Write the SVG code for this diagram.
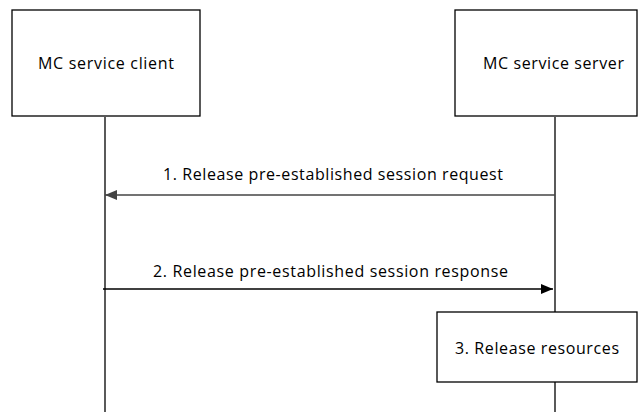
<svg xmlns="http://www.w3.org/2000/svg" width="638" height="412" viewBox="0 0 638 412">
<defs>
<style>
.box{fill:#fff;stroke:#000;stroke-width:1.3}
.life{stroke:#000;stroke-width:1.3;fill:none}
.msg{stroke:#000;stroke-width:1.3;fill:none}
text{font-family:"Open Sans","Liberation Sans",sans-serif;font-size:16px;fill:#000}
</style>
<marker id="ah" markerWidth="12" markerHeight="10" refX="12" refY="5" orient="auto" markerUnits="userSpaceOnUse">
<path d="M0,0 L12,5 L0,10 Z" fill="#000"/>
</marker>
<marker id="ahg" markerWidth="12" markerHeight="10" refX="12" refY="5" orient="auto" markerUnits="userSpaceOnUse">
<path d="M0,0 L12,5 L0,10 Z" fill="#444"/>
</marker>
</defs>
<g id="lifelines">
<line class="life" x1="105" y1="117" x2="105" y2="412"/>
<line class="life" x1="555" y1="117" x2="555" y2="412"/>
</g>
<g id="client">
<rect class="box" x="12" y="10" width="188" height="106"/>
<text x="38" y="69" textLength="136" lengthAdjust="spacing">MC service client</text>
</g>
<g id="server">
<rect class="box" x="455" y="10" width="182" height="106"/>
<text x="483" y="69" textLength="141" lengthAdjust="spacing">MC service server</text>
</g>
<g id="step3">
<rect class="box" x="437" y="312" width="200" height="70"/>
<text x="455" y="354" textLength="164" lengthAdjust="spacing">3. Release resources</text>
</g>
<g id="connectors">
<line x1="555" y1="195" x2="105" y2="195" stroke="#444" stroke-width="1.3" marker-end="url(#ahg)"/>
<text x="163" y="180" textLength="340" lengthAdjust="spacing">1. Release pre-established session request</text>
<line class="msg" x1="103" y1="289" x2="553" y2="289" marker-end="url(#ah)"/>
<text x="153" y="277" textLength="355" lengthAdjust="spacing">2. Release pre-established session response</text>
</g>
</svg>
